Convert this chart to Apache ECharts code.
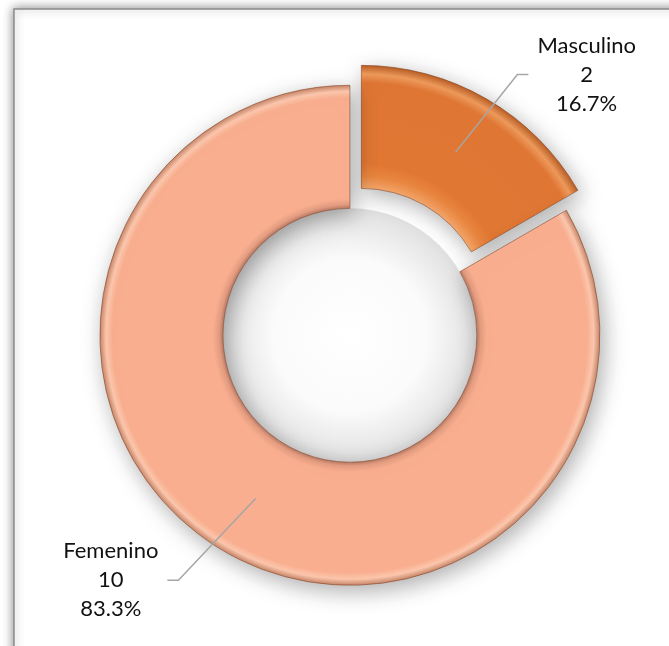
<!DOCTYPE html>
<html><head><meta charset="utf-8">
<script src="https://cdn.jsdelivr.net/npm/echarts@6/dist/echarts.min.js"></script>
<style>html,body{margin:0;padding:0;background:#fff}#c{width:669px;height:646px}</style>
</head><body><div id="c"></div>
<script>
// ---- data ----
const categories = ['Masculino', 'Femenino'];
const values = [2, 10];
const sliceColors = ['#E07733', '#F9AE8F'];
const exploded = [true, false];
const lineLen1 = [28, 33];
const lineLen2 = [32, 45];

// ---- layout ----
const W = 669, H = 646;
const CENTER = ['52.3%', '51.9%'];
const RADIUS = ['39.3%', '77.4%'];
const base = Math.min(W, H) / 2;
const rOuter = parseFloat(RADIUS[1]) / 100 * base;
const rInner = parseFloat(RADIUS[0]) / 100 * base;
const cx = parseFloat(CENTER[0]) / 100 * W;
const cy = parseFloat(CENTER[1]) / 100 * H;
const k = rInner / rOuter;

const chart = echarts.init(document.getElementById('c'), null, {renderer: 'canvas'});

function bevel(stops) {
  return new echarts.graphic.RadialGradient(cx, cy, rOuter, stops, true);
}
const fills = [
  bevel([
    {offset: k, color: '#F4A56A'}, {offset: k + 0.05, color: '#E8853F'},
    {offset: k + 0.1, color: '#E07733'}, {offset: 0.93, color: '#DF7634'},
    {offset: 0.965, color: '#EE9A5C'}, {offset: 1, color: '#B85E26'}]),
  bevel([
    {offset: k, color: '#B77A66'}, {offset: k + 0.015, color: '#E39C80'},
    {offset: k + 0.04, color: '#F9AE8F'}, {offset: 0.95, color: '#F9AE8F'},
    {offset: 0.975, color: '#FCC7AD'}, {offset: 1, color: '#C68568'}])
];

const sliceData = categories.map((name, i) => ({
  name: name,
  value: values[i],
  selected: exploded[i],
  itemStyle: {color: fills[i]},
  select: {itemStyle: {color: fills[i]}}
}));
const labelData = categories.map((name, i) => ({
  name: name,
  value: values[i],
  selected: exploded[i],
  labelLine: {length: lineLen1[i], length2: lineLen2[i]}
}));

const common = {
  type: 'pie',
  center: CENTER,
  radius: RADIUS,
  startAngle: 90,
  clockwise: true,
  percentPrecision: 1,
  selectedMode: 'single',
  selectedOffset: 23,
  avoidLabelOverlap: false,
  emphasis: {disabled: true}
};

const option = {
  backgroundColor: '#ffffff',
  animation: false,
  graphic: [
    {type: 'rect', z: 0, shape: {x: 14, y: 9, width: 720, height: 720},
     style: {fill: '#ffffff', stroke: '#8c8c8c', lineWidth: 1.5, shadowBlur: 10, shadowColor: 'rgba(0,0,0,0.45)'}},
    {type: 'circle', z: 1, shape: {cx: cx, cy: cy, r: rInner},
     style: {fill: new echarts.graphic.RadialGradient(0.5, 0.5, 0.5, [
       {offset: 0, color: '#ffffff'}, {offset: 0.6, color: '#fbfbfb'}, {offset: 1, color: '#e0e0e0'}])}}
  ],
  series: [
    Object.assign({}, common, {
      z: 5,
      itemStyle: {
        borderColor: 'rgba(130,65,35,0.55)', borderWidth: 1,
        shadowBlur: 22, shadowColor: 'rgba(0,0,0,0.32)', shadowOffsetX: 4, shadowOffsetY: 6
      },
      label: {show: false},
      labelLine: {show: false},
      data: sliceData
    }),
    Object.assign({}, common, {
      z: 10,
      silent: true,
      itemStyle: {color: 'rgba(0,0,0,0)', borderWidth: 0},
      select: {itemStyle: {color: 'rgba(0,0,0,0)', borderWidth: 0}},
      label: {
        show: true,
        position: 'outside',
        formatter: '{a|{b}}\n{a|{c}}\n{a|{d}%}',
        rich: {a: {align: 'center', fontSize: 22, lineHeight: 29, fontFamily: 'Lato', color: '#111111'}}
      },
      labelLine: {show: true, smooth: false, lineStyle: {color: '#A6A6A6', width: 1.5}},
      labelLayout: function (p) {
        const pts = p.labelLinePoints;
        if (!pts || pts.length < 3) return {};
        const p0 = pts[0], p1 = pts[1], p2 = pts[2];
        let dx = p1[0] - p0[0], dy = p1[1] - p0[1];
        const len = Math.hypot(dx, dy) || 1;
        dx /= len; dy /= len;
        const half = (rOuter - rInner) / 2;
        const start = [p0[0] - dx * half, p0[1] - dy * half];
        const side = p2[0] > p1[0] ? 1 : -1;
        const end = [p2[0] - side * 4, p2[1]];
        const elbow = [end[0] - side * 11, end[1]];
        return {labelLinePoints: [start, elbow, end]};
      },
      data: labelData
    })
  ]
};
chart.setOption(option);
</script>
</body></html>
